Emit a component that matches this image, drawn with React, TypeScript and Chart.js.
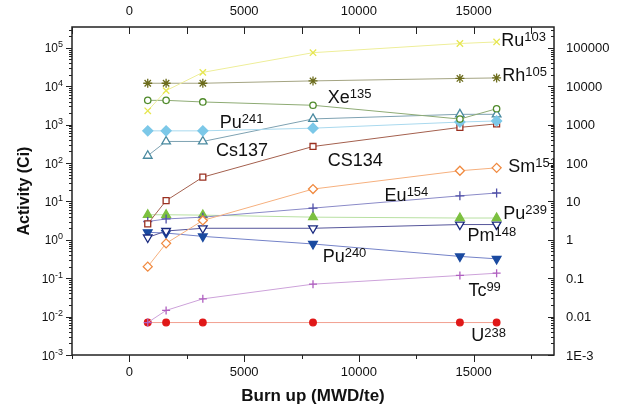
import React, { useEffect, useRef } from 'react';
import { Chart, registerables } from 'chart.js';

Chart.register(...registerables);

// ---- data ----
const burnup = [800, 1600, 3200, 8000, 14400, 16000];
const ru103 = [2300, 7700, 23000, 75000, 130000, 143000];
const rh105 = [12000, 12000, 12000, 13800, 16000, 16500];
const xe135 = [4300, 4300, 3900, 3200, 1400, 2600];
const pu241 = [690, 690, 690, 810, 1170, 1250];
const cs137 = [155, 365, 365, 1410, 1860, 1860];
const cs134 = [2.6, 10.5, 43, 270, 850, 1050];
const sm151 = [0.2, 0.81, 3.2, 21, 63, 75];
const eu154 = [3, 3.5, 3.9, 6.7, 14, 16.6];
const pu239 = [4.5, 4.5, 4.4, 3.9, 3.7, 3.7];
const pm148 = [1.15, 1.7, 2.0, 2.0, 2.5, 2.5];
const pu240 = [1.57, 1.5, 1.23, 0.78, 0.37, 0.32];
const tc99 = [0.007, 0.0145, 0.029, 0.07, 0.118, 0.135];
const u238 = [0.007, 0.007, 0.007, 0.007, 0.007, 0.007];

const xMajorTicks = [0, 5000, 10000, 15000];
const xMinorTicks = [-2500, 2500, 7500, 12500, 17500];
const yDecades = [-3, -2, -1, 0, 1, 2, 3, 4, 5];
const rightTickLabels = ['1E-3', '0.01', '0.1', '1', '10', '100', '1000', '10000', '100000'];

// text annotations: main text, superscript, anchor in data coords
const labelMain = ['Ru', 'Rh', 'Xe', 'Pu', 'Cs137', 'CS134', 'Sm', 'Eu', 'Pu', 'Pm', 'Pu', 'Tc', 'U'];
const labelSup = ['103', '105', '135', '241', '', '', '151', '154', '239', '148', '240', '99', '238'];
const labelX = [16200, 16250, 8640, 3940, 3770, 8640, 16510, 11120, 16290, 14730, 8420, 14770, 14900];
const labelY = [115000, 14000, 3740, 834, 155, 85, 59, 10.4, 3.53, 0.94, 0.267, 0.0347, 0.00231];

const FONT = "'Liberation Sans', Arial, sans-serif";

function series(values: number[]) {
  return burnup.map((x, i) => ({ x, y: values[i] }));
}

const annotPlugin = {
  id: 'customAxes',
  afterDraw(chart: any) {
    const ctx = chart.ctx as CanvasRenderingContext2D;
    const { left, right, top, bottom } = chart.chartArea;
    const xs = chart.scales.x;
    const ys = chart.scales.y;
    ctx.save();

    // annotations (clipped)
    ctx.save();
    ctx.beginPath();
    ctx.rect(left, top, right - left, bottom - top);
    ctx.clip();
    ctx.fillStyle = '#111';
    ctx.textBaseline = 'alphabetic';
    ctx.textAlign = 'left';
    for (let i = 0; i < labelMain.length; i++) {
      const px = xs.getPixelForValue(labelX[i]);
      const py = ys.getPixelForValue(labelY[i]);
      ctx.font = `18px ${FONT}`;
      ctx.fillText(labelMain[i], px, py);
      const w = ctx.measureText(labelMain[i]).width;
      if (labelSup[i]) {
        ctx.font = `13px ${FONT}`;
        ctx.fillText(labelSup[i], px + w, py - 4.5);
      }
    }
    ctx.restore();

    // frame
    ctx.strokeStyle = '#222';
    ctx.lineWidth = 1.5;
    ctx.strokeRect(left, top, right - left, bottom - top);

    ctx.lineWidth = 1;
    ctx.beginPath();
    // bottom & top x ticks
    for (const v of xMajorTicks) {
      const p = Math.round(xs.getPixelForValue(v)) + 0.5;
      ctx.moveTo(p, bottom);
      ctx.lineTo(p, bottom + 7);
      ctx.moveTo(p, top);
      ctx.lineTo(p, top + 7);
    }
    for (const v of xMinorTicks) {
      const p = Math.round(xs.getPixelForValue(v)) + 0.5;
      ctx.moveTo(p, bottom);
      ctx.lineTo(p, bottom + 4);
      ctx.moveTo(p, top);
      ctx.lineTo(p, top + 7);
    }
    // y ticks
    const yMin = ys.min;
    const yMax = ys.max;
    for (let e = -3; e <= 5; e++) {
      for (let k = 1; k <= 9; k++) {
        const v = k * Math.pow(10, e);
        if (v < yMin * 0.999 || v > yMax) continue;
        const p = Math.round(ys.getPixelForValue(v)) + 0.5;
        const len = k === 1 ? 6 : 3;
        ctx.moveTo(left - len, p);
        ctx.lineTo(left, p);
        ctx.moveTo(right - len, p);
        ctx.lineTo(right, p);
      }
    }
    ctx.stroke();

    // tick labels
    ctx.fillStyle = '#111';
    ctx.font = `13px ${FONT}`;
    ctx.textAlign = 'center';
    ctx.textBaseline = 'middle';
    for (const v of xMajorTicks) {
      const p = xs.getPixelForValue(v);
      ctx.fillText(String(v), p, bottom + 17);
      ctx.fillText(String(v), p, top - 16);
    }
    ctx.textAlign = 'left';
    yDecades.forEach((e, i) => {
      const p = ys.getPixelForValue(Math.pow(10, e));
      ctx.font = `13px ${FONT}`;
      ctx.fillText(rightTickLabels[i], right + 12, p + 1);
    });
    // left labels 10^e
    ctx.textBaseline = 'alphabetic';
    yDecades.forEach((e) => {
      const p = ys.getPixelForValue(Math.pow(10, e));
      const expText = String(e);
      ctx.font = `9px ${FONT}`;
      const ew = ctx.measureText(expText).width;
      ctx.font = `12px ${FONT}`;
      const bw = ctx.measureText('10').width;
      const xEnd = left - 9;
      ctx.fillText('10', xEnd - ew - bw, p + 4.5);
      ctx.font = `9px ${FONT}`;
      ctx.fillText(expText, xEnd - ew, p - 0.5);
    });

    // titles
    ctx.font = `bold 17px ${FONT}`;
    ctx.textAlign = 'center';
    ctx.textBaseline = 'alphabetic';
    ctx.fillText('Burn up (MWD/te)', (left + right) / 2, 401);
    ctx.save();
    ctx.translate(29, (top + bottom) / 2);
    ctx.rotate(-Math.PI / 2);
    ctx.font = `bold 16px ${FONT}`;
    ctx.fillText('Activity (Ci)', 0, 0);
    ctx.restore();

    ctx.restore();
  },
};

type DS = {
  data: number[];
  line: string;
  marker: string;
  style: string;
  radius: number;
  filled: boolean;
  rotation?: number;
};

const seriesDefs: DS[] = [
  { data: ru103, line: '#eeee99', marker: '#e6e650', style: 'crossRot', radius: 4.5, filled: false },
  { data: rh105, line: '#a4a482', marker: '#6c6c1c', style: 'star', radius: 4.5, filled: false },
  { data: xe135, line: '#8eab74', marker: '#4f8a2a', style: 'circle', radius: 3.2, filled: false },
  { data: pu241, line: '#a9d9ee', marker: '#7cc8e8', style: 'rectRot', radius: 5, filled: true },
  { data: cs137, line: '#7ea2b2', marker: '#4a8aa0', style: 'triangle', radius: 5, filled: false },
  { data: cs134, line: '#a4604e', marker: '#9a3020', style: 'rect', radius: 4.2, filled: false },
  { data: sm151, line: '#f6b07e', marker: '#f08a40', style: 'rectRot', radius: 4.5, filled: false },
  { data: eu154, line: '#8a8ac8', marker: '#5050a8', style: 'cross', radius: 4.5, filled: false },
  { data: pu239, line: '#b8e0a2', marker: '#7cc040', style: 'triangle', radius: 5, filled: true },
  { data: pm148, line: '#55559a', marker: '#1a2a80', style: 'triangle', radius: 5, filled: false, rotation: 180 },
  { data: pu240, line: '#7482c8', marker: '#1a4aa0', style: 'triangle', radius: 5, filled: true, rotation: 180 },
  { data: tc99, line: '#cda2da', marker: '#b060c0', style: 'cross', radius: 4, filled: false },
  { data: u238, line: '#f2a090', marker: '#e01818', style: 'circle', radius: 3.3, filled: true },
];

export default function App() {
  const ref = useRef<HTMLCanvasElement | null>(null);

  useEffect(() => {
    if (!ref.current) return;
    const chart = new Chart(ref.current, {
      type: 'line',
      data: {
        datasets: seriesDefs.map((s) => ({
          data: series(s.data),
          borderColor: s.line,
          borderWidth: 1,
          showLine: true,
          tension: 0,
          pointStyle: s.style as any,
          pointRadius: s.radius,
          pointRotation: s.rotation || 0,
          pointBorderColor: s.marker,
          pointBackgroundColor: s.filled ? s.marker : '#ffffff',
          pointBorderWidth: 1.3,
        })),
      },
      options: {
        animation: false,
        responsive: false,
        devicePixelRatio: 1,
        layout: { padding: { left: 72, right: 65, top: 27, bottom: 55 } },
        scales: {
          x: { type: 'linear', min: -2500, max: 18500, display: false },
          y: { type: 'logarithmic', min: 0.001, max: 350000, display: false },
        },
        plugins: {
          legend: { display: false },
          tooltip: { enabled: false },
        },
      },
      plugins: [annotPlugin],
    });
    return () => chart.destroy();
  }, []);

  return (
    <div style={{ position: 'fixed', left: 0, top: 0, width: 619, height: 410, background: '#fff' }}>
      <canvas ref={ref} width={619} height={410} style={{ width: 619, height: 410, display: 'block' }} />
    </div>
  );
}
